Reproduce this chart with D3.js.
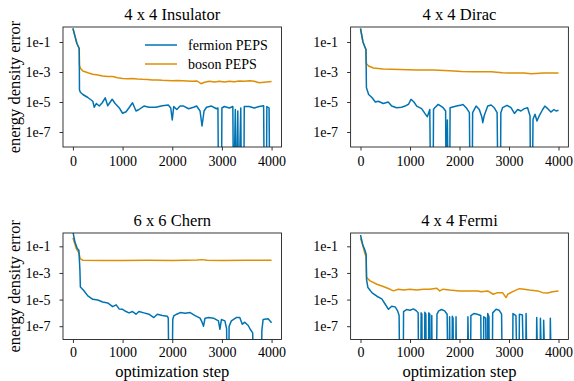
<!DOCTYPE html>
<html>
<head>
<meta charset="utf-8">
<script src="https://cdn.jsdelivr.net/npm/d3@7"></script>
<style>
    body { margin: 0; background: #fff; }
    svg text { font-family: "Liberation Serif", "Times New Roman", serif !important; fill: #000; }
</style>
</head>
<body>
<svg id="chart" width="574" height="381"></svg>
<script>
// values are log10(energy density error); -12 means the error fell to ~0 (off the axis)
const DROP = -12;
const titles = ["4 x 4 Insulator", "4 x 4 Dirac", "6 x 6 Chern", "4 x 4 Fermi"];
const seriesNames = ["fermion PEPS", "boson PEPS"];
const xTicks = [0, 1000, 2000, 3000, 4000];
const yTicks = [1e-1, 1e-3, 1e-5, 1e-7];
const yTickLabels = ["1e-1", "1e-3", "1e-5", "1e-7"];

const insulatorFermion = [[0,-0.09],[40,-0.6],[80,-1.1],[115,-1.35],[127,-1.45],[132,-4.2],[150,-4.35],[200,-4.5],[300,-4.7],[400,-4.95],[430,-5.35],[470,-5.1],[530,-5.27],[590,-5.05],[650,-4.72],[700,-5.25],[790,-4.82],[850,-5.1],[930,-5.38],[1000,-5.75],[1070,-5.65],[1130,-5.38],[1200,-5.05],[1270,-5.6],[1330,-5.5],[1430,-5.27],[1530,-5.35],[1670,-5.35],[1800,-5.25],[1920,-5.2],[1970,-5.4],[2000,-6.2],[2030,-5.3],[2090,-5.5],[2160,-5.27],[2230,-5.27],[2330,-5.45],[2430,-5.35],[2490,-5.27],[2560,-5.6],[2600,-6.6],[2640,-5.6],[2690,-5.35],[2790,-5.27],[2890,-5.45],[2920,-5.4],[2935,DROP],[2990,DROP],[3000,-5.4],[3050,-5.3],[3150,-5.4],[3220,-5.3],[3235,DROP],[3270,-5.5],[3285,DROP],[3320,-5.6],[3335,DROP],[3380,-5.4],[3395,DROP],[3440,DROP],[3450,-5.3],[3550,-5.3],[3650,-5.4],[3750,-5.3],[3840,-5.25],[3855,DROP],[3895,DROP],[3905,-5.3],[3950,-5.4],[3965,DROP],[4000,DROP]];
const insulatorBoson = [[0,-0.09],[40,-0.6],[80,-1.1],[115,-1.35],[127,-1.45],[132,-2.55],[150,-2.75],[200,-2.93],[300,-3.05],[400,-3.15],[500,-3.2],[600,-3.27],[700,-3.3],[800,-3.3],[900,-3.38],[1000,-3.44],[1100,-3.45],[1200,-3.44],[1300,-3.47],[1400,-3.49],[1500,-3.5],[1600,-3.53],[1700,-3.53],[1800,-3.55],[1900,-3.56],[2000,-3.58],[2100,-3.56],[2200,-3.58],[2300,-3.6],[2400,-3.62],[2500,-3.6],[2580,-3.78],[2650,-3.68],[2750,-3.62],[2850,-3.66],[2950,-3.62],[3050,-3.66],[3150,-3.62],[3250,-3.65],[3350,-3.6],[3450,-3.62],[3560,-3.58],[3650,-3.62],[3750,-3.72],[3850,-3.68],[3950,-3.65],[4000,-3.64]];

const diracFermion = [[0,-0.1],[50,-1.0],[95,-1.38],[110,-1.5],[120,-4.05],[165,-4.5],[230,-4.7],[300,-5.0],[360,-4.95],[460,-5.1],[560,-5.0],[630,-5.27],[730,-5.38],[830,-5.35],[900,-5.27],[970,-5.15],[1020,-4.82],[1080,-5.0],[1135,-5.27],[1235,-5.44],[1300,-5.76],[1350,-5.98],[1400,-5.5],[1420,DROP],[1465,DROP],[1475,-5.5],[1500,-5.38],[1570,-5.16],[1670,-5.38],[1720,-5.6],[1730,DROP],[1755,-6.2],[1775,DROP],[1800,DROP],[1810,-5.38],[1940,-5.27],[2040,-5.2],[2070,-5.16],[2135,-5.38],[2200,-5.71],[2215,DROP],[2255,DROP],[2265,-5.71],[2335,-5.27],[2400,-5.5],[2450,-5.98],[2470,-6.38],[2500,-5.9],[2570,-5.27],[2640,-5.2],[2700,-5.38],[2760,-5.71],[2780,DROP],[2825,DROP],[2835,-5.71],[2870,-5.38],[2960,-5.22],[3040,-5.38],[3110,-5.76],[3175,-5.5],[3240,-5.6],[3310,-5.44],[3375,-5.38],[3425,-5.93],[3437,DROP],[3470,DROP],[3485,-6.15],[3525,-5.82],[3565,-6.27],[3610,-5.93],[3680,-5.5],[3725,-5.27],[3780,-5.44],[3845,-5.67],[3910,-5.5],[3950,-5.6],[4000,-5.55]];
const diracBoson = [[0,-0.1],[50,-1.0],[95,-1.38],[110,-1.5],[120,-2.45],[165,-2.6],[260,-2.73],[460,-2.8],[800,-2.84],[1130,-2.86],[1470,-2.87],[1800,-2.91],[2040,-2.96],[2300,-2.98],[2640,-2.98],[2870,-3.05],[3000,-3.07],[3300,-3.06],[3450,-3.12],[3700,-3.07],[4000,-3.07]];

const chernFermion = [[0,0.1],[40,-0.68],[87,-1.17],[120,-1.3],[140,-2.73],[150,-4.05],[213,-4.3],[300,-4.72],[400,-4.98],[500,-5.03],[600,-5.18],[700,-5.25],[800,-5.53],[870,-5.4],[930,-5.7],[1000,-5.73],[1070,-5.9],[1130,-6.0],[1200,-5.9],[1270,-6.1],[1330,-5.9],[1430,-6.0],[1530,-6.1],[1630,-6.35],[1700,-6.1],[1800,-6.2],[1900,-6.25],[1920,-6.4],[1935,DROP],[1995,DROP],[2010,-6.5],[2030,-6.23],[2090,-6.1],[2160,-5.98],[2260,-6.03],[2360,-5.98],[2460,-6.2],[2560,-6.4],[2600,-6.7],[2630,-7.0],[2660,-6.4],[2730,-6.35],[2830,-6.4],[2930,-6.6],[2960,-7.23],[2990,-6.5],[3060,-6.6],[3095,-7.2],[3105,DROP],[3135,DROP],[3145,-7.0],[3190,-6.6],[3290,-6.35],[3360,-6.35],[3410,-6.85],[3460,-6.7],[3530,-6.95],[3570,-7.23],[3620,-7.5],[3640,DROP],[3790,DROP],[3805,-7.3],[3830,-6.5],[3930,-6.45],[4000,-6.75]];
const chernBoson = [[0,-0.35],[67,-1.17],[120,-1.5],[147,-1.92],[200,-2.05],[600,-2.06],[1000,-2.06],[1500,-2.05],[2000,-2.06],[2500,-2.03],[2600,-2.0],[2700,-2.05],[3000,-2.06],[3500,-2.05],[4000,-2.05]];

const fermiFermion = [[0,-0.15],[50,-0.95],[87,-1.27],[114,-1.6],[122,-3.5],[150,-4.1],[235,-4.5],[330,-4.75],[430,-4.95],[500,-5.35],[565,-5.73],[630,-5.5],[700,-5.55],[750,-5.85],[780,-6.2],[795,DROP],[860,DROP],[870,-5.9],[930,-5.75],[1000,-5.8],[1070,-5.7],[1130,-5.85],[1165,-6.0],[1175,DROP],[1215,DROP],[1225,-6.0],[1240,-6.1],[1250,DROP],[1290,DROP],[1300,-5.95],[1320,-6.1],[1330,DROP],[1370,DROP],[1380,-6.0],[1400,-6.1],[1410,DROP],[1430,DROP],[1440,-6.2],[1450,DROP],[1530,DROP],[1545,-6.1],[1580,-5.85],[1640,-5.75],[1700,-5.85],[1750,-6.1],[1770,DROP],[1790,DROP],[1800,-6.3],[1815,DROP],[1845,DROP],[1855,-6.25],[1870,-6.4],[1880,DROP],[1920,DROP],[1930,-6.3],[1945,DROP],[2160,DROP],[2170,-6.3],[2195,DROP],[2220,DROP],[2230,-6.2],[2290,-6.05],[2360,-6.1],[2430,-6.2],[2445,DROP],[2480,DROP],[2490,-6.3],[2530,-6.4],[2540,DROP],[2560,DROP],[2570,-6.05],[2595,-6.3],[2605,DROP],[2660,DROP],[2670,-6.0],[2740,-5.73],[2800,-5.8],[2850,-6.1],[2870,DROP],[3070,DROP],[3080,-6.05],[3140,-6.2],[3170,DROP],[3200,DROP],[3210,-6.1],[3270,-6.15],[3305,DROP],[3335,DROP],[3345,-6.05],[3370,DROP],[3550,DROP],[3560,-6.35],[3590,DROP],[3625,DROP],[3635,-6.4],[3670,DROP],[3690,DROP],[3700,-6.55],[3740,DROP],[3825,DROP],[3835,-6.4],[3860,DROP],[4000,DROP]];
const fermiBoson = [[0,-0.4],[50,-0.98],[87,-1.52],[114,-1.8],[122,-3.3],[150,-3.45],[195,-3.6],[330,-3.85],[460,-4.02],[600,-4.23],[665,-4.35],[765,-4.22],[865,-4.28],[1000,-4.22],[1135,-4.28],[1270,-4.22],[1400,-4.22],[1540,-4.15],[1600,-4.35],[1670,-4.22],[1800,-4.28],[2000,-4.35],[2170,-4.35],[2370,-4.35],[2440,-4.42],[2570,-4.35],[2680,-4.6],[2770,-4.48],[2870,-4.48],[2940,-4.85],[2975,-4.6],[3075,-4.4],[3210,-4.18],[3310,-4.22],[3410,-4.28],[3580,-4.35],[3680,-4.48],[3780,-4.5],[3880,-4.42],[4000,-4.35]];

const panelData = [
    [insulatorFermion, insulatorBoson],
    [diracFermion, diracBoson],
    [chernFermion, chernBoson],
    [fermiFermion, fermiBoson]
];
const colors = ["#0173b2", "#de8f05"];
const serif = '"Liberation Serif", "Times New Roman", serif';

// panel boxes in pixels
const boxes = [
    {x: 63, y: 27, w: 218.5, h: 120},
    {x: 350.6, y: 27, w: 217.8, h: 120},
    {x: 63, y: 233, w: 218.5, h: 106.5},
    {x: 350.6, y: 233, w: 217.8, h: 106.5}
];

const svg = d3.select("#chart");

boxes.forEach((b, i) => {
    let g = svg.append("g").attr("transform", `translate(${b.x},${b.y})`);

    let x = d3.scaleLinear().domain([-200, 4200]).range([0, b.w]);
    let y = d3.scaleLog().domain([1e-8, 1]).range([b.h, 0]);

    g.append("clipPath").attr("id", "clip" + i)
        .append("rect").attr("width", b.w).attr("height", b.h);

    let line = d3.line()
        .x(d => x(d[0]))
        .y(d => y(Math.pow(10, d[1])));

    g.append("g").attr("clip-path", `url(#clip${i})`)
        .selectAll("path")
        .data(panelData[i].slice().reverse())
        .enter().append("path")
        .attr("d", line)
        .attr("fill", "none")
        .attr("stroke", (d, k) => colors[1 - k])
        .attr("stroke-width", 1.5)
        .attr("stroke-linejoin", "round");

    let xAxis = g.append("g")
        .attr("transform", `translate(0,${b.h})`)
        .call(d3.axisBottom(x).tickValues(xTicks).tickSize(3.5).tickPadding(i < 2 ? 5.5 : 4).tickFormat(d3.format("d")));
    let yAxis = g.append("g")
        .call(d3.axisLeft(y).tickValues(yTicks).tickSize(3.5).tickPadding(9).tickFormat((d, k) => yTickLabels[k]));

    [xAxis, yAxis].forEach(a => {
        a.attr("font-family", serif).attr("font-size", 14);
        a.select(".domain").remove();
        a.selectAll("line").attr("stroke", "#000").attr("stroke-width", 0.8);
        a.selectAll("text").style("font-family", serif).style("font-size", "14px");
    });

    g.append("rect")
        .attr("width", b.w).attr("height", b.h)
        .attr("fill", "none").attr("stroke", "#222").attr("stroke-width", 0.9);

    g.append("text")
        .attr("x", b.w / 2).attr("y", -7.5)
        .attr("text-anchor", "middle")
        .style("font-size", "16.5px")
        .text(titles[i]);

    if (i % 2 === 0) {
        g.append("text")
            .attr("transform", `translate(${19.5 - b.x},${b.h / 2}) rotate(-90)`)
            .attr("text-anchor", "middle")
            .style("font-size", "16.5px")
            .text("energy density error");
    }
    if (i >= 2) {
        g.append("text")
            .attr("x", b.w / 2).attr("y", 376.5 - b.y)
            .attr("text-anchor", "middle")
            .style("font-size", "16.5px")
            .text("optimization step");
    }

    //legend
    if (i === 0) {
        let lg = g.append("g").attr("transform", `translate(${145 - b.x},${45 - b.y})`);
        seriesNames.forEach((name, k) => {
            lg.append("line")
                .attr("x1", 0).attr("x2", 32)
                .attr("y1", k * 19).attr("y2", k * 19)
                .attr("stroke", colors[k]).attr("stroke-width", 1.5);
            lg.append("text")
                .attr("x", 43).attr("y", k * 19 + 5)
                .style("font-size", "14px")
                .text(name);
        });
    }
});
</script>
</body>
</html>
